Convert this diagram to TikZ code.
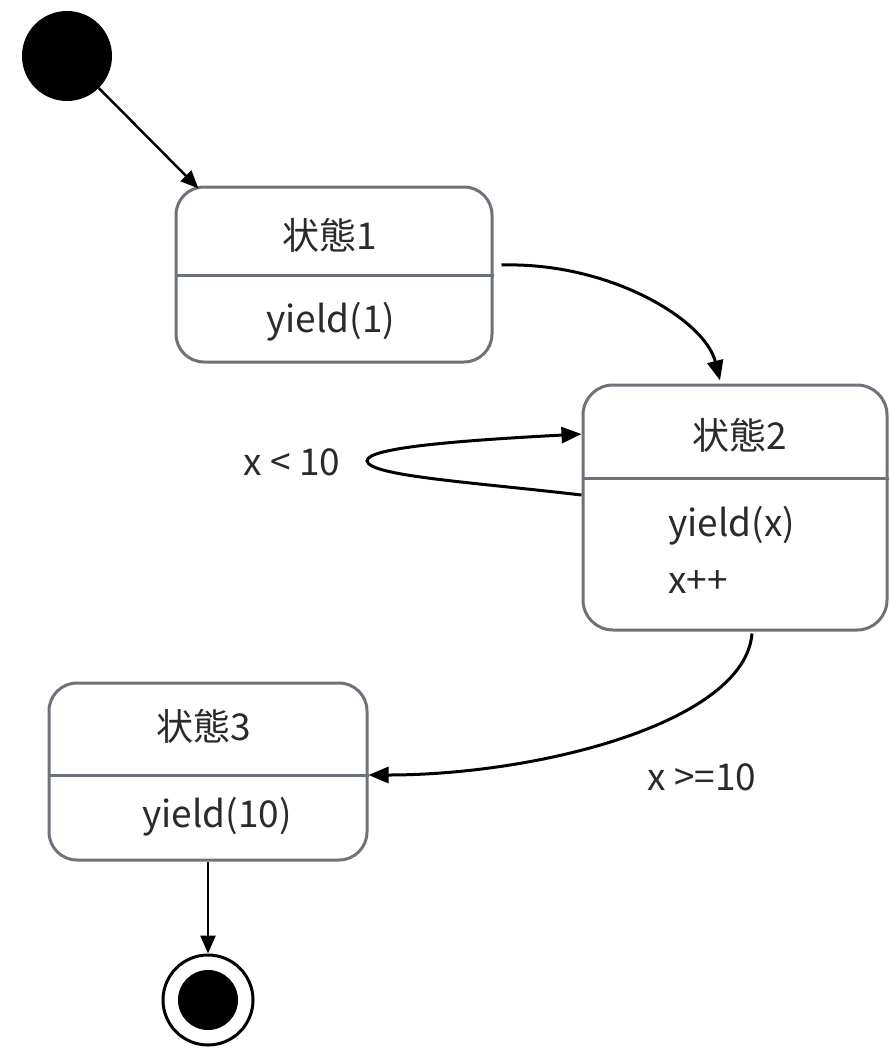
\documentclass[tikz,border=0pt]{standalone}
\usepackage{fontspec}
\setmainfont{Noto Sans CJK JP}
\usetikzlibrary{arrows.meta,calc}
\definecolor{boxgray}{HTML}{6E737A}
\definecolor{txt}{HTML}{2A2A2A}
\tikzset{
  statebox/.style={draw=boxgray,line width=3pt,rounded corners=28pt,fill=white,inner sep=0pt},
  divider/.style={draw=boxgray,line width=3pt},
  lbl/.style={text=txt,font=\fontsize{37}{43}\selectfont,inner sep=0pt},
  conn/.style={line width=3pt,-{Triangle[length=20pt,width=16pt]}},
  thinconn/.style={line width=2.5pt,-{Triangle[length=18pt,width=15pt]}}
}
\begin{document}
\begin{tikzpicture}[x=1pt,y=-1pt]
\useasboundingbox (0,0) rectangle (889,1049);
% initial state
\node[circle,fill=black,minimum size=90pt,inner sep=0pt] (init) at (67,56) {};
% state 1
\node[statebox,minimum width=316pt,minimum height=175pt] (s1) at (334,274.5) {};
\draw[divider] (s1.west |- 0,275) -- (s1.east |- 0,275);
\node[lbl] (s1t) at (330,235) {状態1};
\node[lbl] (s1a) at (331,322) {yield(1)};
% state 2
\node[statebox,minimum width=304pt,minimum height=245pt,rounded corners=30pt] (s2) at (735,507.5) {};
\draw[divider] (s2.west |- 0,478) -- (s2.east |- 0,478);
\node[lbl] (s2t) at (740,435) {状態2};
\node[lbl,anchor=west] (s2a) at (668,526) {yield(x)};
\node[lbl,anchor=west] (s2b) at (668,582) {x++};
% state 3
\node[statebox,minimum width=318pt,minimum height=177pt] (s3) at (208,771.5) {};
\draw[divider] (s3.west |- 0,775) -- (s3.east |- 0,775);
\node[lbl] (s3t) at (204,726) {状態3};
\node[lbl] (s3a) at (217,817) {yield(10)};
% final state
\node[circle,draw=black,line width=3pt,minimum size=90pt,inner sep=0pt] (fin) at (208,1000) {};
\node[circle,fill=black,minimum size=60pt,inner sep=0pt] (finin) at (fin.center) {};
% labels
\node[lbl] (l1) at (292,462) {x < 10};
\node[lbl] (l2) at (702,777) {x >=10};
% connectors
\draw[thinconn] (init) -- ([xshift=24pt,yshift=-3pt]s1.north west);
\draw[conn] ([xshift=8pt,yshift=9.5pt]s1.east) .. controls (610,262) and (705,320) .. ([xshift=-15pt,yshift=3pt]s2.north);
\coordinate (turn) at (367,461);
\draw[conn] ([yshift=12.5pt]s2.west) .. controls (470,482) and (370,476) .. (turn) .. controls (366,447) and (470,440) .. ([yshift=73.5pt]s2.west);
\draw[conn] ([xshift=17pt,yshift=-2pt]s2.south) .. controls (745,722) and (540,775) .. ([yshift=-3.5pt]s3.east);
\draw[thinconn] (s3.south) -- (fin.north);
\end{tikzpicture}
\end{document}
